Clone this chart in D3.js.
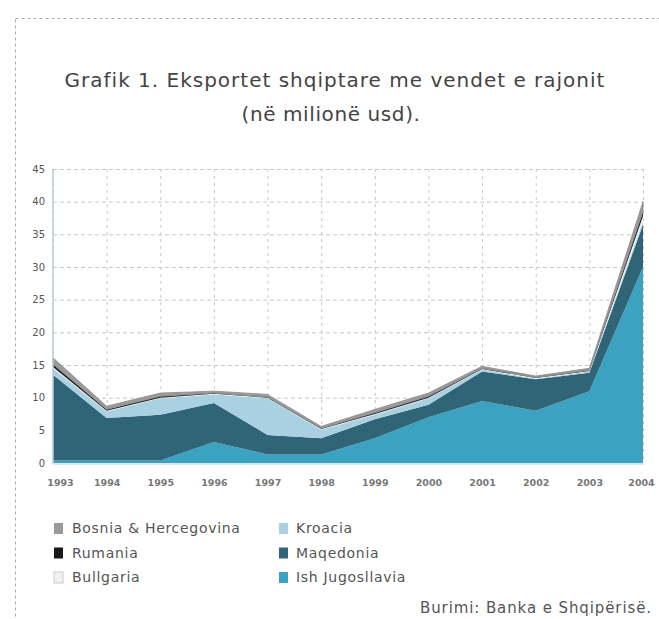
<!DOCTYPE html>
<html><head><meta charset="utf-8">
<script src="https://cdn.jsdelivr.net/npm/d3@7/dist/d3.min.js"></script>
<style>body{margin:0;background:#fff}svg{display:block}</style>
</head><body>
<svg id="c" width="659" height="619"></svg>
<script>
const years = ["1993","1994","1995","1996","1997","1998","1999","2000","2001","2002","2003","2004"];
const ishJugosllavia = [0.4,0.4,0.4,3.2,1.3,1.3,3.8,7.0,9.5,8.0,11.0,30.0];
const maqedonia     = [13.1,6.5,7.0,6.0,3.0,2.5,2.9,1.9,4.5,4.8,2.8,6.5];
const kroacia       = [1.0,1.0,2.5,1.3,5.6,1.3,0.7,1.0,0.3,0.1,0.2,0.5];
const bullgaria     = [0.2,0.1,0.1,0.1,0.1,0.1,0.1,0.1,0.1,0.1,0.1,0.8];
const rumania       = [0.4,0.2,0.2,0.1,0.1,0.1,0.2,0.2,0.1,0.1,0.1,0.7];
const bosnia        = [1.0,0.5,0.5,0.3,0.4,0.3,0.5,0.5,0.3,0.2,0.3,1.5];
const yTicks = [0,5,10,15,20,25,30,35,40,45];

const seriesKeys = ["Ish Jugosllavia","Maqedonia","Kroacia","Bullgaria","Rumania","Bosnia & Hercegovina"];
const seriesVals = [ishJugosllavia,maqedonia,kroacia,bullgaria,rumania,bosnia];
const colors = {"Ish Jugosllavia":"#3ba2c2","Maqedonia":"#2f6577","Kroacia":"#a9d1e2","Bullgaria":"#f2f2f2","Rumania":"#1a1a1a","Bosnia & Hercegovina":"#9a9a9a"};

const table = years.map((y,i)=>{const o={year:y};seriesKeys.forEach((k,j)=>o[k]=seriesVals[j][i]);return o;});
const svg = d3.select("#c");
const font = "'DejaVu Sans', sans-serif";

// dotted frame
svg.append("rect").attr("x",15.5).attr("y",18.5).attr("width",700).attr("height",700)
  .attr("fill","none").attr("stroke","#aaa").attr("stroke-dasharray","3,3");

// title
svg.append("text").attr("x",335).attr("y",87).attr("text-anchor","middle")
  .attr("font-family",font).attr("font-size",20).attr("letter-spacing",1).attr("fill","#444")
  .text("Grafik 1. Eksportet shqiptare me vendet e rajonit");
svg.append("text").attr("x",331).attr("y",121).attr("text-anchor","middle")
  .attr("font-family",font).attr("font-size",20).attr("letter-spacing",0.6).attr("fill","#444")
  .text("(në milionë usd).");

const x = d3.scalePoint().domain(years).range([53,643]);
const y = d3.scaleLinear().domain([0,45]).range([463,169]);

// grid
const g = svg.append("g");
g.selectAll(".hg").data(yTicks.filter(d=>d>0)).join("line")
  .attr("x1",53).attr("x2",643).attr("y1",d=>y(d)+0.5).attr("y2",d=>y(d)+0.5)
  .attr("stroke","#c8c8c8").attr("stroke-dasharray","4,3");
g.selectAll(".vg").data(years).join("line")
  .attr("x1",d=>x(d)+0.5).attr("x2",d=>x(d)+0.5).attr("y1",169).attr("y2",463)
  .attr("stroke","#c8c8c8").attr("stroke-dasharray","3,4");

// stacked areas
const stack = d3.stack().keys(seriesKeys)(table);
const area = d3.area().x(d=>x(d.data.year)).y0(d=>y(d[0])).y1(d=>y(d[1]));
svg.append("g").selectAll("path").data(stack).join("path")
  .attr("d",area).attr("fill",d=>colors[d.key])
  .attr("stroke",d=>d.key==="Bosnia & Hercegovina"?"#888":"none").attr("stroke-width",0.8);

// axes lines
svg.append("line").attr("x1",53).attr("x2",53).attr("y1",169).attr("y2",464).attr("stroke","#b9cdd6").attr("stroke-width",1.5);
svg.append("line").attr("x1",53).attr("x2",644).attr("y1",464).attr("y2",464).attr("stroke","#cfe0e6").attr("stroke-width",1.5);

// y labels
const yAxis = d3.axisLeft(y).tickValues(yTicks).tickSize(0).tickPadding(8);
const ya = svg.append("g").attr("transform","translate(53,0)").call(yAxis);
ya.select(".domain").remove();
ya.selectAll("text").attr("font-family",font).attr("font-size",10).attr("fill","#555");

// x labels
const xAxis = d3.axisBottom(x).tickSize(0).tickPadding(13);
const xa = svg.append("g").attr("transform","translate(0,466)").call(xAxis);
xa.select(".domain").remove();
xa.selectAll("text").attr("font-family",font).attr("font-size",9.5).attr("font-weight","bold").attr("fill","#777")
  .attr("dx",(d,i)=>i===0?7:(i===years.length-1?-2:0));

// legend
const legend = [
  {k:"Bosnia & Hercegovina",c:0,r:0},{k:"Rumania",c:0,r:1},{k:"Bullgaria",c:0,r:2},
  {k:"Kroacia",c:1,r:0},{k:"Maqedonia",c:1,r:1},{k:"Ish Jugosllavia",c:1,r:2}];
const lg = svg.append("g").selectAll("g").data(legend).join("g")
  .attr("transform",d=>`translate(${d.c?279:54},${528+d.r*24.5})`);
lg.append("rect").attr("x",0).attr("y",-5).attr("width",9).attr("height",11)
  .attr("fill",d=>colors[d.k]).attr("stroke",d=>d.k==="Bullgaria"?"#ccc":"none");
lg.append("text").attr("x",d=>d.c?17:18).attr("y",5).attr("font-family",font).attr("font-size",14)
  .attr("letter-spacing",0.7).attr("fill","#555").text(d=>d.k);

// source
svg.append("text").attr("x",652).attr("y",613).attr("text-anchor","end")
  .attr("font-family",font).attr("font-size",15).attr("letter-spacing",0.9).attr("fill","#555")
  .text("Burimi: Banka e Shqipërisë.");
</script>
</body></html>
